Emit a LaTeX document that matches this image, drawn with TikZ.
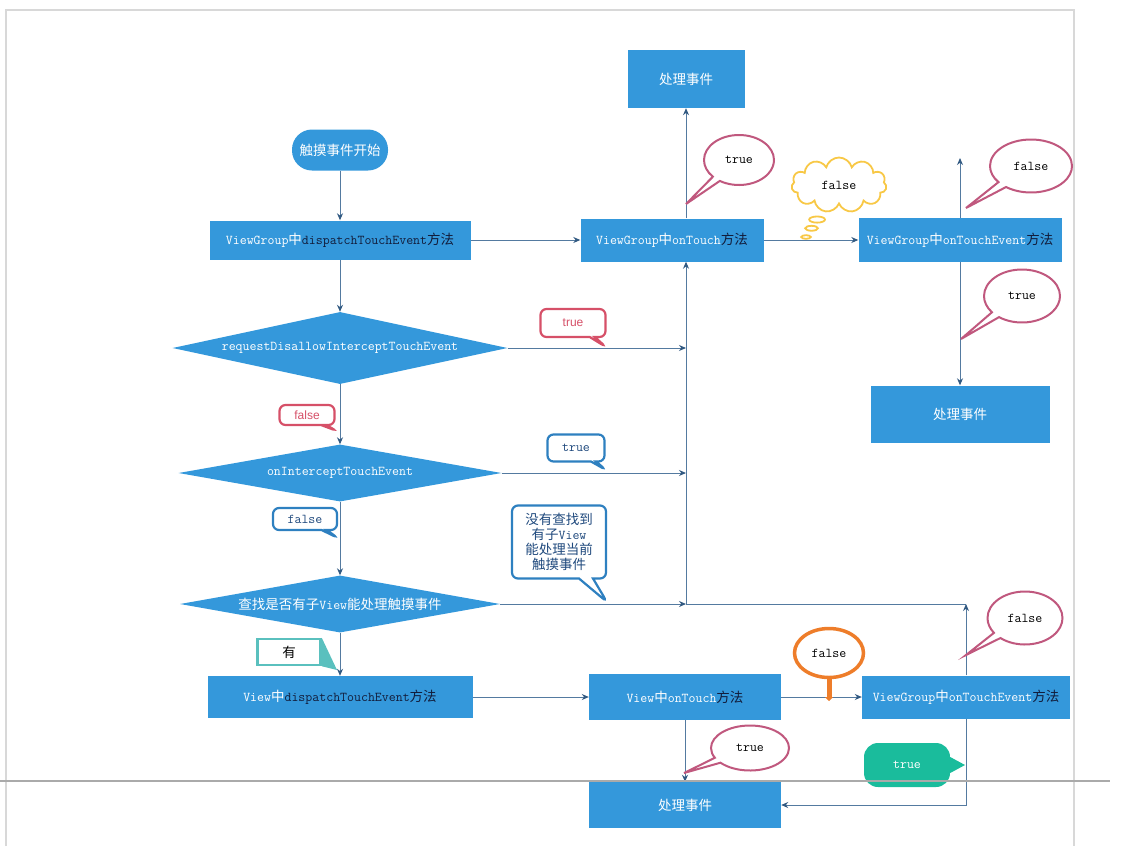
\documentclass[tikz,border=0pt]{standalone}
\usepackage{fontspec}
\newfontfamily\cjk{Noto Sans CJK SC}
\newfontfamily\arial{Liberation Sans}
\usepackage{tikz}
\usetikzlibrary{calc, positioning}
\usetikzlibrary{arrows.meta}
\usetikzlibrary{shapes.geometric, shapes.symbols, shapes.callouts}
\newcommand{\zh}[1]{{\cjk #1}}
\definecolor{boxblue}{RGB}{52,152,219}
\definecolor{linec}{RGB}{84,122,160}
\definecolor{tipc}{RGB}{50,90,130}
\definecolor{darktext}{RGB}{18,28,58}
\definecolor{mauve}{RGB}{192,88,126}
\definecolor{rosered}{RGB}{214,80,104}
\definecolor{calloutblue}{RGB}{46,128,192}
\definecolor{bluetext}{RGB}{31,73,125}
\definecolor{orangec}{RGB}{238,125,42}
\definecolor{cloudy}{RGB}{248,200,70}
\definecolor{tealc}{RGB}{26,188,156}
\definecolor{lightteal}{RGB}{90,192,190}
\definecolor{framec}{RGB}{216,216,216}
\definecolor{rulec}{RGB}{170,170,170}
\def\fs{\fontsize{13.5}{15}\selectfont}
\tikzset{
    block/.style = {
        rectangle, fill=boxblue, inner sep=0pt, align=center, font=\ttfamily\fs, text=white
    },
    decision/.style = {
        diamond, aspect=4.6, fill=boxblue, inner sep=0pt, font=\ttfamily\fs, text=white
    },
    startstop/.style = {
        rectangle, rounded corners=20pt, fill=boxblue, inner sep=0pt, font=\cjk\fs, text=white
    },
    bubble/.style = {
        ellipse callout, draw=mauve, line width=2pt, fill=white, inner sep=0pt, font=\ttfamily\fs, text=black
    },
    tag/.style = {
        rectangle callout, rounded corners=6pt, line width=2.2pt, fill=white, inner sep=0pt, callout pointer width=5pt
    },
}

\begin{document}
\begin{tikzpicture}[x=1pt, y=-1pt]
        \useasboundingbox (0,0) rectangle (1123,846);

        % Draw frame
        \draw[framec, line width=1.5pt] (6,846) -- (6,10) -- (1074,10) -- (1074,846);

        % Place the blocks
        \node[startstop, minimum width=96pt, minimum height=41pt] (start) at (340,150) {触摸事件开始};
        \node[block, minimum width=261pt, minimum height=39pt] (vgdispatch) at (340,240) {ViewGroup\zh{中}\textcolor{darktext}{dispatchTouchEvent\zh{方法}}};
        \node[block, minimum width=183pt, minimum height=43pt] (vgtouch) at (672,240) {ViewGroup\zh{中}onTouch\textcolor{darktext}{\zh{方法}}};
        \node[block, minimum width=203pt, minimum height=44pt] (vgevent) at (960,240) {ViewGroup\zh{中}onTouchEvent\textcolor{darktext}{\zh{方法}}};
        \node[block, font=\cjk\fs, minimum width=117pt, minimum height=58pt] (handletop) at (686,79) {处理事件};
        \node[block, font=\cjk\fs, minimum width=179pt, minimum height=57pt] (handleright) at (960,414) {处理事件};
        \node[decision, minimum width=335pt, minimum height=72pt] (disallow) at (340,348) {requestDisallowInterceptTouchEvent};
        \node[decision, minimum width=323pt, minimum height=57pt] (intercept) at (340,473) {onInterceptTouchEvent};
        \node[decision, minimum width=320pt, minimum height=57pt] (findchild) at (340,604) {\zh{查找是否有子}View\zh{能处理触摸事件}};
        \node[block, minimum width=265pt, minimum height=42pt] (vdispatch) at (340,697) {View\zh{中}\textcolor{darktext}{dispatchTouchEvent\zh{方法}}};
        \node[block, minimum width=192pt, minimum height=46pt] (vtouch) at (685,697) {View\zh{中}onTouch\textcolor{darktext}{\zh{方法}}};
        \node[block, minimum width=208pt, minimum height=43pt] (vgevent2) at (966,697) {ViewGroup\zh{中}onTouchEvent\textcolor{darktext}{\zh{方法}}};
        \node[block, font=\cjk\fs, minimum width=192pt, minimum height=46pt] (handlebottom) at (685,805) {处理事件};

        \coordinate (j1) at (686,348);
        \coordinate (j2) at (686,473);
        \coordinate (j3) at (686,604);
        \coordinate (j4) at (966,604);
        \coordinate (evup) at (960,158);

        % Draw connections
        \begin{scope}[linec, line width=1pt, >={Stealth[length=7pt, width=6pt, color=tipc]}]
            \draw[->] (start) -- (vgdispatch);
            \draw[->] (vgdispatch) -- (vgtouch);
            \draw[->] (vgtouch) -- (vgevent);
            \draw[->] (vgtouch.north -| handletop) -- (handletop);
            \draw[->] (vgevent.north) -- (evup);
            \draw[->] (vgevent) -- (handleright);
            \draw[->] (vgdispatch) -- (disallow);
            \draw[->] (disallow) -- (intercept);
            \draw[->] (intercept) -- (findchild);
            \draw[->] (findchild) -- (vdispatch);
            \draw[->] (j3) -- (j3 |- vgtouch.south);
            \draw[->] (disallow) -- (j1);
            \draw[->] (intercept) -- (j2);
            \draw[->] (findchild) -- (j3);
            \draw (j3) -- (j4);
            \draw[->] (vgevent2) -- (j4);
            \draw[->] (vdispatch) -- (vtouch);
            \draw[->] (vtouch) -- (vgevent2);
            \draw[->] (vtouch) -- (handlebottom);
            \draw[->] (vgevent2.south) |- (handlebottom);
        \end{scope}

        % Place callouts
        \node[bubble, minimum width=70pt, minimum height=50pt, callout absolute pointer={(686,204)}] (ontrue) at (739,160) {true};
        \node[bubble, minimum width=82pt, minimum height=53pt, callout absolute pointer={(966,208)}] (evfalse) at (1031,166) {false};
        \node[bubble, minimum width=76pt, minimum height=53pt, callout absolute pointer={(961,339)}] (evtrue) at (1022,296) {true};
        \node[bubble, minimum width=75pt, minimum height=53pt, callout absolute pointer={(966,655)}] (evfalse2) at (1025,618) {false};
        \node[bubble, minimum width=78pt, minimum height=45pt, callout absolute pointer={(684,773)}] (vtrue) at (750,748) {true};

        \node[cloud callout, cloud puffs=11, cloud ignores aspect, draw=cloudy, line width=1.8pt, fill=white, inner sep=0pt,
              minimum width=95pt, minimum height=55pt, font=\ttfamily\fs,
              callout pointer segments=3, callout absolute pointer={(806,237)}] (thinkfalse) at (839,185) {false};

        \node[tag, draw=rosered, text=rosered, font=\arial\fontsize{12}{14}\selectfont, minimum width=65pt, minimum height=28pt,
              callout absolute pointer={(606,347)}] (disatrue) at (573,323) {true};
        \node[tag, draw=rosered, text=rosered, font=\arial\fontsize{12}{14}\selectfont, minimum width=55pt, minimum height=20pt,
              callout absolute pointer={(337,431)}] (disafalse) at (307,415) {false};
        \node[tag, draw=calloutblue, text=bluetext, font=\ttfamily\fs, minimum width=57pt, minimum height=27pt,
              callout absolute pointer={(606,470)}] (inttrue) at (576,448) {true};
        \node[tag, draw=calloutblue, text=bluetext, font=\ttfamily\fs, minimum width=64pt, minimum height=22pt,
              callout absolute pointer={(338,538)}] (intfalse) at (305,519) {false};
        \node[tag, draw=calloutblue, text=bluetext, font=\cjk\fs, align=center, minimum width=94pt, minimum height=73pt,
              callout pointer width=14pt, callout absolute pointer={(607,602)}] (nochild) at (559,542) {没有查找到\\有子{\ttfamily View}\\能处理当前\\触摸事件};

        % "有" tag
        \coordinate (havept) at (337,670);
        \node[draw=lightteal, line width=2.5pt, fill=white, minimum width=63pt, minimum height=26pt, font=\cjk\fs] (have) at (289,652) {有};
        \fill[lightteal] (have.north east) -- (havept) -- (have.south east);

        % orange bubble
        \coordinate (vfalsept) at (829,701);
        \node[ellipse, draw=orangec, line width=3.5pt, fill=white, minimum width=69pt, minimum height=49pt, inner sep=0pt, font=\ttfamily\fs] (vfalse) at (829,653) {false};
        \draw[orangec, line width=5pt, -{Triangle[length=4pt, width=8pt]}] (vfalse.south) -- (vfalsept);

        % teal bubble
        \coordinate (tealpt) at (965,765);
        \node[rectangle, rounded corners=14pt, fill=tealc, text=white, font=\ttfamily\fs, minimum width=86pt, minimum height=44pt] (evtrue2) at (907,765) {true};
        \fill[tealc] ([yshift=-8pt]evtrue2.east) -- (tealpt) -- ([yshift=8pt]evtrue2.east);

        % rule across the page
        \draw[rulec, line width=1.5pt] (0,781) -- (1110,781);
\end{tikzpicture}
\end{document}
